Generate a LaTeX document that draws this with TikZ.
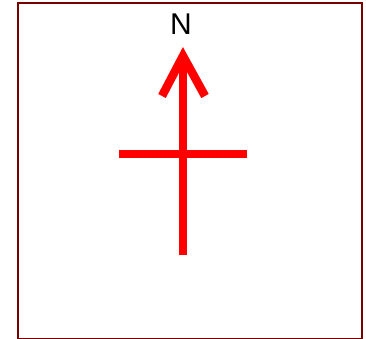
\documentclass[tikz,border=0pt]{standalone}
\usepackage{fontspec}
\setmainfont{Liberation Sans}
\usepackage{tikz}
\usetikzlibrary{positioning}

\definecolor{framered}{HTML}{7A0000}

\begin{document}
\begin{tikzpicture}[x=1pt,y=-1pt,
	needle/.style={draw=red,line width=8.5pt,line cap=butt,line join=miter}]

	\useasboundingbox (0,0) rectangle (366,338);
	\draw[framered,line width=2pt] (17.5,2.5) rectangle (362,339.3);

	\node[font=\fontsize{30}{32}\selectfont,anchor=base] (north) at (181,34.3) {N};

	\coordinate (tail) at (183,255);
	\coordinate (tip) at (183,56);
	\coordinate (barbL) at (162,96);
	\coordinate (barbR) at (205,96);
	\coordinate (west) at (119,154);
	\coordinate (east) at (247,154);

	\draw[needle] (tail) -- (tip);
	\draw[needle] (barbL) -- (tip) -- (barbR);
	\draw[needle] (west) -- (east);

\end{tikzpicture}
\end{document}
